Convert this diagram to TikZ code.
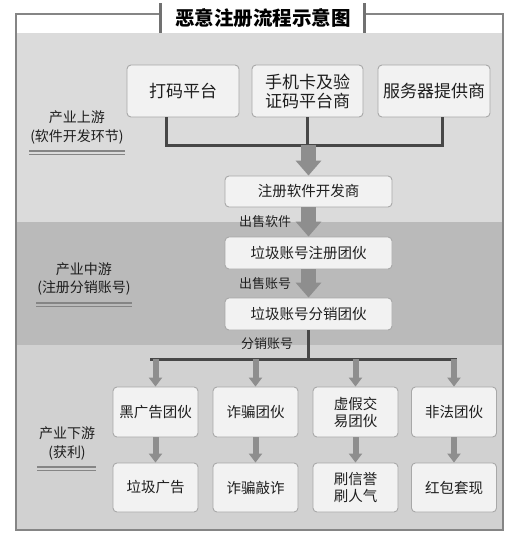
\documentclass[tikz,border=0pt]{standalone}
\usepackage{fontspec}
\setmainfont{Noto Sans CJK SC}
\usetikzlibrary{arrows.meta}
\definecolor{bandA}{HTML}{DBDBDB}
\definecolor{bandB}{HTML}{BABABA}
\definecolor{bandC}{HTML}{D1D1D1}
\definecolor{boxfill}{HTML}{F2F2F2}
\definecolor{boxline}{HTML}{A8A8A8}
\definecolor{arrowgray}{HTML}{8E8E8E}
\definecolor{linedark}{HTML}{474747}
\definecolor{framegray}{HTML}{858585}
\definecolor{txt}{HTML}{1E1E1E}
\tikzset{
  box/.style={draw=boxline, fill=boxfill, line width=0.9pt, rounded corners=4pt, inner sep=0pt, align=center, text=txt},
  bigbox/.style={box, minimum width=111pt, minimum height=52pt, font=\fontsize{17}{19}\selectfont},
  midbox/.style={box, minimum width=167pt, minimum height=32pt, font=\fontsize{14.5}{16}\selectfont},
  smallbox/.style={box, minimum width=85pt, minimum height=50pt, font=\fontsize{14.5}{17}\selectfont},
  bigarrow/.style={draw=arrowgray, line width=15pt, -{Triangle[width=25pt,length=15pt]}},
  smallarrow/.style={draw=arrowgray, line width=6pt, -{Triangle[width=13pt,length=9pt]}},
  joinline/.style={draw=linedark, line width=3pt},
  stagelabel/.style={align=center, text=txt, font=\fontsize{14}{18.5}\selectfont, inner sep=0pt},
  flowlabel/.style={text=txt, font=\fontsize{13}{14}\selectfont, inner sep=0pt},
  underline/.style={draw=framegray, line width=1.2pt}
}
\begin{document}
\begin{tikzpicture}[x=1pt,y=-1pt]
\useasboundingbox (0,0) rectangle (530,536);
% bands
\fill[white] (0,0) rectangle (530,536);
\fill[bandA] (17,33) rectangle (502,222);
\fill[bandB] (17,222) rectangle (502,345);
\fill[bandC] (17,345) rectangle (502,529);
\draw[framegray, line width=2pt] (16,14) rectangle (503,530);
% title
\fill[white] (160,3) rectangle (364,32);
\draw[framegray!85!black, line width=3pt] (160,3) -- (160,33);
\draw[framegray!85!black, line width=3pt] (364,3) -- (364,33);
\node[font=\fontsize{19.5}{20}\selectfont\bfseries, text=black, inner sep=0pt] (title) at (263,18) {恶意注册流程示意图};
% stage labels
\node[stagelabel] (s1) at (77,127.5) {产业上游\\(软件开发环节)};
\draw[underline] (29,151) -- (125,151);
\draw[underline] (29,154.5) -- (125,154.5);
\node[stagelabel] (s2) at (84,279) {产业中游\\(注册分销账号)};
\draw[underline] (36,303) -- (132,303);
\draw[underline] (36,306.5) -- (132,306.5);
\node[stagelabel] (s3) at (67,443.5) {产业下游\\(获利)};
\draw[underline] (37,467) -- (96,467);
\draw[underline] (37,470.5) -- (96,470.5);
% top boxes
\node[bigbox, minimum width=112pt] (a1) at (183,91) {打码平台};
\node[bigbox] (a2) at (307.5,91) {手机卡及验\\证码平台商};
\node[bigbox, minimum width=112pt] (a3) at (434,91) {服务器提供商};
% middle boxes
\node[midbox, minimum height=31pt] (b) at (308.5,191.5) {注册软件开发商};
\node[midbox] (c) at (308.5,253) {垃圾账号注册团伙};
\node[midbox] (d) at (308.5,314) {垃圾账号分销团伙};
% top connectors
\coordinate (j1) at (166,145);
\coordinate (j2) at (307,145);
\coordinate (j3) at (442,145);
\draw[joinline] (a1.south -| j1) -- (j1);
\draw[joinline] (a2.south -| j2) -- (j2);
\draw[joinline] (a3.south -| j3) -- (j3);
\draw[joinline, line cap=rect] (j1) -- (j3);
\draw[bigarrow] (j2 -| b) -- (b.north);
\draw[bigarrow] (b.south) -- (c.north);
\draw[bigarrow] (c.south) -- (d.north);
\node[flowlabel] (l1) at (265,222) {出售软件};
\node[flowlabel] (l2) at (265,284) {出售账号};
\node[flowlabel] (l3) at (267,344) {分销账号};
% lower boxes
\node[smallbox] (e1) at (155.5,412) {黑广告团伙};
\node[smallbox] (e2) at (255.5,412) {诈骗团伙};
\node[smallbox] (e3) at (355.5,412) {虚假交\\易团伙};
\node[smallbox] (e4) at (454,412) {非法团伙};
\node[smallbox, minimum height=49pt] (f1) at (155.5,487.5) {垃圾广告};
\node[smallbox, minimum height=49pt] (f2) at (255.5,487.5) {诈骗敲诈};
\node[smallbox, minimum height=49pt] (f3) at (355.5,487.5) {刷信誉\\刷人气};
\node[smallbox, minimum height=49pt] (f4) at (454,487.5) {红包套现};
% distribution bar
\coordinate (k0) at (308,359);
\coordinate (kl) at (150,359);
\coordinate (kr) at (457,359);
\draw[joinline] (d.south -| k0) -- (k0);
\draw[joinline] (kl) -- (kr);
\foreach \i in {1,2,3,4} {
  \draw[smallarrow] (kl -| e\i) -- (e\i.north);
  \draw[smallarrow] (e\i.south) -- (f\i.north);
}
\end{tikzpicture}
\end{document}
